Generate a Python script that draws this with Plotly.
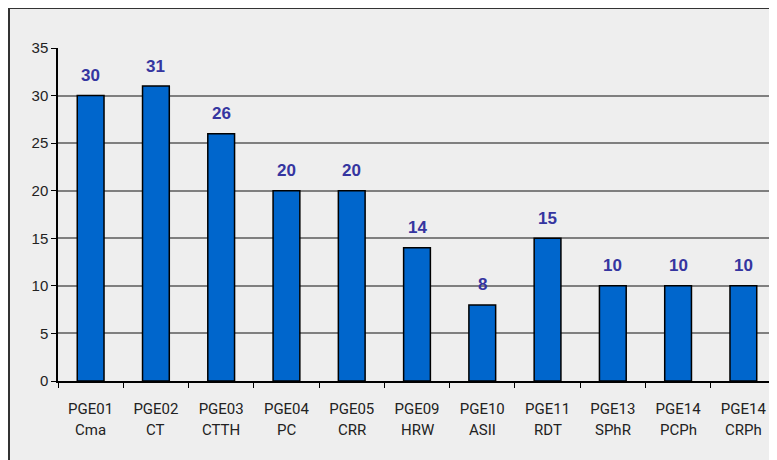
import plotly.graph_objects as go

codes = ["PGE01", "PGE02", "PGE03", "PGE04", "PGE05", "PGE09", "PGE10", "PGE11", "PGE13", "PGE14", "PGE14"]
names = ["Cma", "CT", "CTTH", "PC", "CRR", "HRW", "ASII", "RDT", "SPhR", "PCPh", "CRPh"]
values = [30, 31, 26, 20, 20, 14, 8, 15, 10, 10, 10]
y_ticks = [0, 5, 10, 15, 20, 25, 30, 35]

cats = [f"{c} {n}" for c, n in zip(codes, names)]
narrow = "Liberation Sans Narrow, Arial Narrow, Roboto, sans-serif"

fig = go.Figure()
fig.add_trace(go.Bar(
    x=cats, y=values,
    marker=dict(color="#0066cc", line=dict(color="#000000", width=1.5)),
    width=0.41,
))

for cat, v in zip(cats, values):
    fig.add_annotation(x=cat, y=v, xref="x", yref="y", text=str(v), showarrow=False,
                       yanchor="middle", yshift=20,
                       font=dict(family="Liberation Sans, Arial", size=17, color="#3535a0", weight="bold"))

for cat, n in zip(cats, names):
    fig.add_annotation(x=cat, y=-0.147, xref="x", yref="paper", text=n, showarrow=False,
                       yanchor="middle", font=dict(family=narrow, size=15, color="#222222"))

# outer frame
fig.add_shape(type="rect", xref="paper", yref="paper", x0=-49 / 718, x1=1.1, y0=-0.4, y1=1 + 40 / 333,
              fillcolor="rgba(0,0,0,0)", line=dict(color="#333333", width=2), layer="below")

fig.update_layout(
    width=769, height=452,
    margin=dict(l=50, r=1, t=40, b=79),
    paper_bgcolor="#eeeeee", plot_bgcolor="rgba(0,0,0,0)",
    showlegend=False,
    bargap=0.59,
    font=dict(family="Liberation Sans, Arial", color="#222222"),
)
fig.update_xaxes(
    tickmode="array", tickvals=cats, ticktext=codes,
    tickson="boundaries", ticks="outside", ticklen=5, tickcolor="#000000",
    showline=True, linecolor="#000000", linewidth=1.5,
    tickfont=dict(family=narrow, size=15, color="#222222"), ticklabelstandoff=13,
)
fig.update_yaxes(
    range=[0, 35], tickvals=y_ticks, ticks="outside", ticklen=5, tickcolor="#000000",
    showline=True, linecolor="#000000", linewidth=1.5,
    showgrid=True, gridcolor="#7f7f7f", gridwidth=1.5, zeroline=False,
    tickfont=dict(size=15, color="#222222"),
)
fig.write_html("out.html")
